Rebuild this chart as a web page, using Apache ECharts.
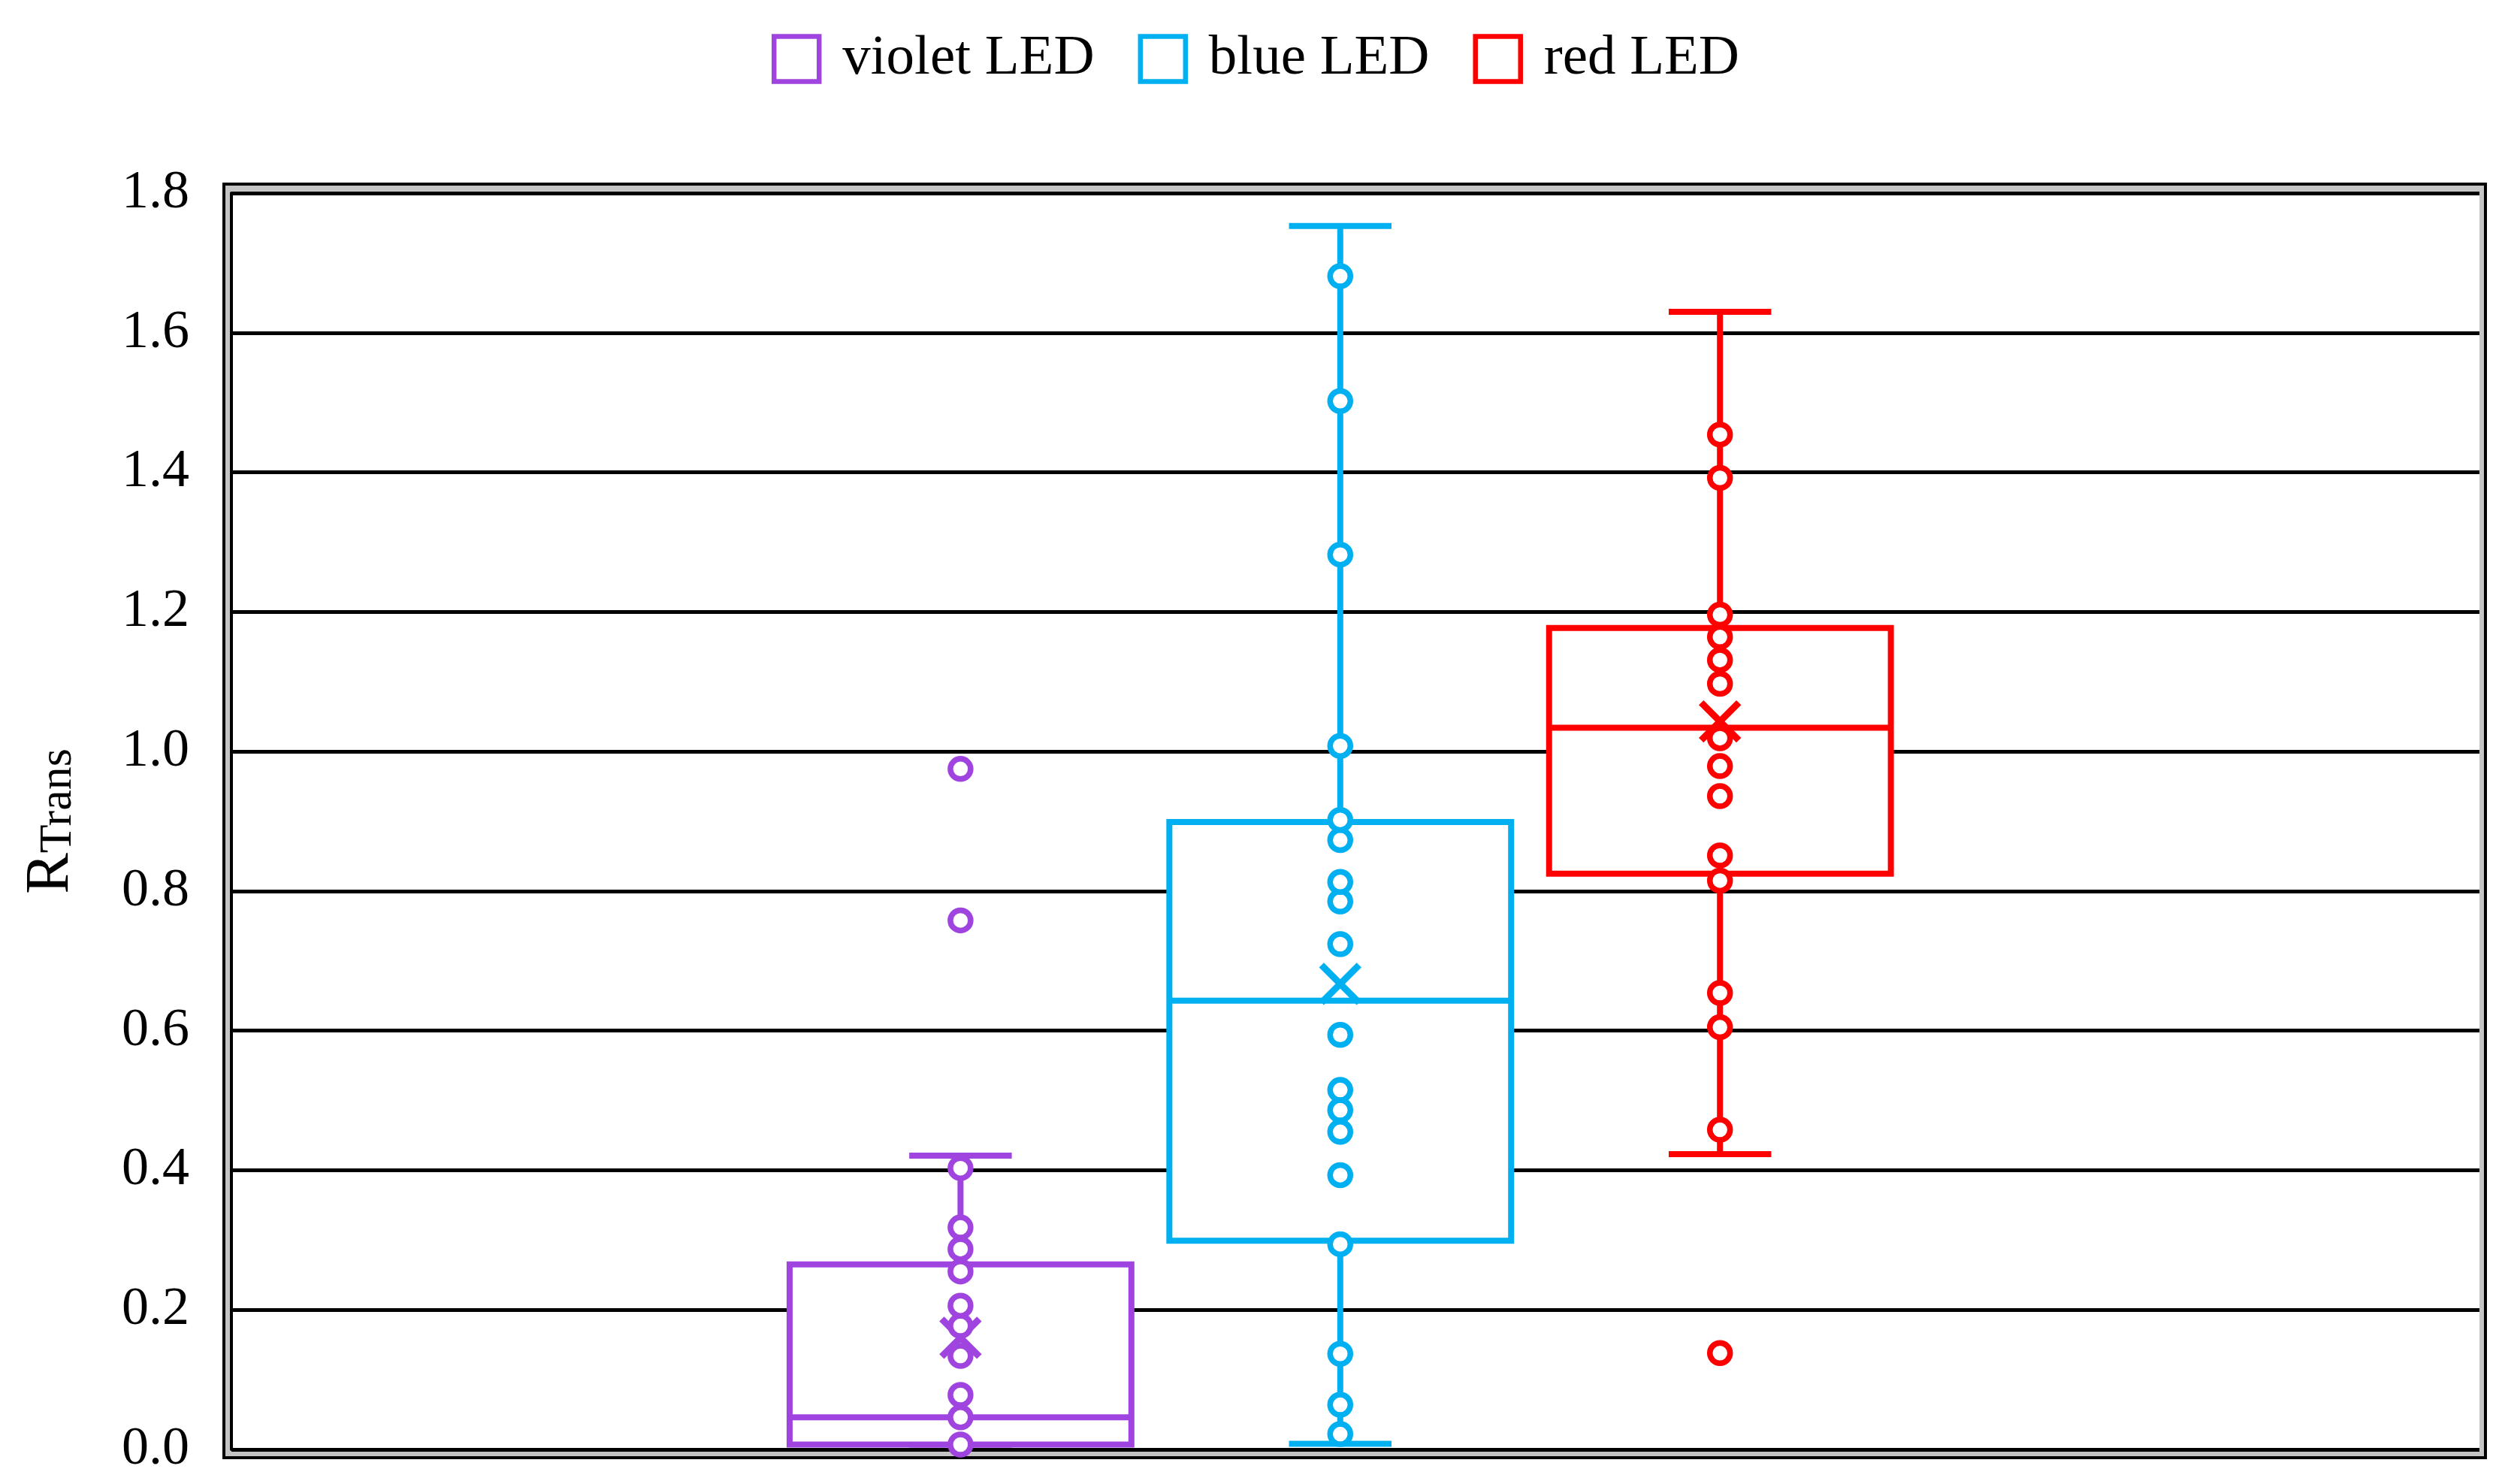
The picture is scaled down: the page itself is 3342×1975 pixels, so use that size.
<!DOCTYPE html>
<html><head><meta charset="utf-8">
<script src="https://cdn.jsdelivr.net/npm/echarts@6/dist/echarts.min.js"></script>
<style>html,body{margin:0;padding:0;background:#fff}#c{width:3342px;height:1975px}</style>
</head><body><div id="c"></div>
<script>
// ---- data ----
const seriesNames = ['violet LED', 'blue LED', 'red LED'];
const seriesColors = ['#A044E0', '#00B0F0', '#FF0000'];
const positions = [1, 2, 3];
// individual measurements (incl. outliers)
const violetPoints = [0.007, 0.046, 0.078, 0.134, 0.177, 0.206, 0.255, 0.287, 0.318, 0.403, 0.758, 0.975];
const bluePoints = [0.022, 0.064, 0.137, 0.294, 0.393, 0.455, 0.486, 0.515, 0.594, 0.724, 0.785, 0.813, 0.873, 0.902, 1.008, 1.282, 1.502, 1.681];
const redPoints = [0.138, 0.458, 0.605, 0.654, 0.815, 0.851, 0.936, 0.979, 1.019, 1.097, 1.131, 1.164, 1.196, 1.392, 1.454];
// box statistics: [whisker min, Q1, median, Q3, whisker max]
const violetBox = [0.007, 0.007, 0.046, 0.265, 0.421];
const blueBox = [0.008, 0.299, 0.643, 0.899, 1.753];
const redBox = [0.423, 0.825, 1.034, 1.177, 1.630];
const means = [0.160, 0.667, 1.043];
const yMin = 0, yMax = 1.8, yStep = 0.2;

const allPoints = [violetPoints, bluePoints, redPoints];
const allBoxes = [violetBox, blueBox, redBox];
const FONT = '"Liberation Serif", "Times New Roman", serif';
const LW = 8;

function renderBox(params, api) {
  const x = api.value(0);
  const c = v => api.coord([x, v]);
  const pMin = c(api.value(1)), pQ1 = c(api.value(2)), pMed = c(api.value(3)),
        pQ3 = c(api.value(4)), pMax = c(api.value(5)), pMean = c(api.value(6));
  const band = api.size([1, 0])[0];
  const bw = band * 0.9, cw = band * 0.27, mk = 25;
  const cx = pMed[0];
  const color = api.visual('color');
  const ls = { stroke: color, lineWidth: LW };
  return {
    type: 'group',
    children: [
      { type: 'line', shape: { x1: cx, y1: pQ3[1], x2: cx, y2: pMax[1] }, style: ls },
      { type: 'line', shape: { x1: cx, y1: pQ1[1], x2: cx, y2: pMin[1] }, style: ls },
      { type: 'line', shape: { x1: cx - cw / 2, y1: pMax[1], x2: cx + cw / 2, y2: pMax[1] }, style: ls },
      { type: 'line', shape: { x1: cx - cw / 2, y1: pMin[1], x2: cx + cw / 2, y2: pMin[1] }, style: ls },
      { type: 'rect', shape: { x: cx - bw / 2, y: pQ3[1], width: bw, height: pQ1[1] - pQ3[1] },
        style: { fill: '#fff', stroke: color, lineWidth: LW } },
      { type: 'line', shape: { x1: cx - bw / 2, y1: pMed[1], x2: cx + bw / 2, y2: pMed[1] }, style: ls },
      { type: 'line', shape: { x1: cx - mk, y1: pMean[1] - mk, x2: cx + mk, y2: pMean[1] + mk }, style: { stroke: color, lineWidth: 9 } },
      { type: 'line', shape: { x1: cx - mk, y1: pMean[1] + mk, x2: cx + mk, y2: pMean[1] - mk }, style: { stroke: color, lineWidth: 9 } }
    ]
  };
}

const series = [];
seriesNames.forEach((name, i) => {
  series.push({
    name, type: 'custom', xAxisIndex: 1, yAxisIndex: 1, z: 2,
    itemStyle: { color: seriesColors[i] },
    renderItem: renderBox,
    encode: { x: 0, y: [1, 2, 3, 4, 5, 6] },
    data: [[positions[i]].concat(allBoxes[i], [means[i]])]
  });
});
seriesNames.forEach((name, i) => {
  series.push({
    name, type: 'scatter', xAxisIndex: 1, yAxisIndex: 1, z: 4,
    symbol: 'circle', symbolSize: 27,
    itemStyle: { color: '#fff', borderColor: seriesColors[i], borderWidth: 7.5, opacity: 1 },
    emphasis: { disabled: true },
    data: allPoints[i].map(v => [positions[i], v])
  });
});

const chart = echarts.init(document.getElementById('c'), null, { renderer: 'canvas' });
chart.setOption({
  animation: false,
  backgroundColor: '#fff',
  legend: {
    top: 36, left: 'center', itemWidth: 60, itemHeight: 60, itemGap: 58,
    selectedMode: false,
    textStyle: { fontFamily: FONT, fontSize: 75, color: '#000', padding: [0, 0, 0, 26] },
    data: seriesNames.map((n, i) => ({
      name: n, icon: 'rect',
      itemStyle: { color: '#fff', borderColor: seriesColors[i], borderWidth: 6.5 }
    }))
  },
  grid: [
    { left: 298, top: 245, right: 34, bottom: 35, show: true, borderColor: '#000', borderWidth: 4, backgroundColor: '#c4c4c4' },
    { left: 308, top: 257, right: 42, bottom: 46, show: true, borderWidth: 0, backgroundColor: '#fff' }
  ],
  xAxis: [
    { type: 'value', gridIndex: 0, show: false, min: 0, max: 1 },
    { type: 'value', gridIndex: 1, min: -0.92, max: 5.0, axisLine: { show: false }, axisTick: { show: false },
      axisLabel: { show: false }, splitLine: { show: false } }
  ],
  yAxis: [
    { type: 'value', gridIndex: 0, show: false, min: 0, max: 1 },
    { type: 'value', gridIndex: 1, min: yMin, max: yMax, interval: yStep,
      axisLine: { show: true, onZero: false, lineStyle: { color: '#000', width: 4 } },
      axisTick: { show: false },
      splitLine: { show: true, lineStyle: { color: '#000', width: 5 } },
      axisLabel: { margin: 56, fontFamily: FONT, fontSize: 72, color: '#000', formatter: v => v.toFixed(1) },
      name: '{r|R}{s|Trans}', nameLocation: 'middle', nameRotate: 90, nameGap: 199,
      nameTextStyle: {
        fontFamily: FONT, color: '#000',
        rich: {
          r: { fontFamily: FONT, fontSize: 82, lineHeight: 82, verticalAlign: 'top', padding: [0, 0, 14, 0], color: '#000' },
          s: { fontFamily: FONT, fontSize: 62, lineHeight: 62, verticalAlign: 'bottom', color: '#000' }
        }
      }
    }
  ],
  series
});
</script></body></html>
